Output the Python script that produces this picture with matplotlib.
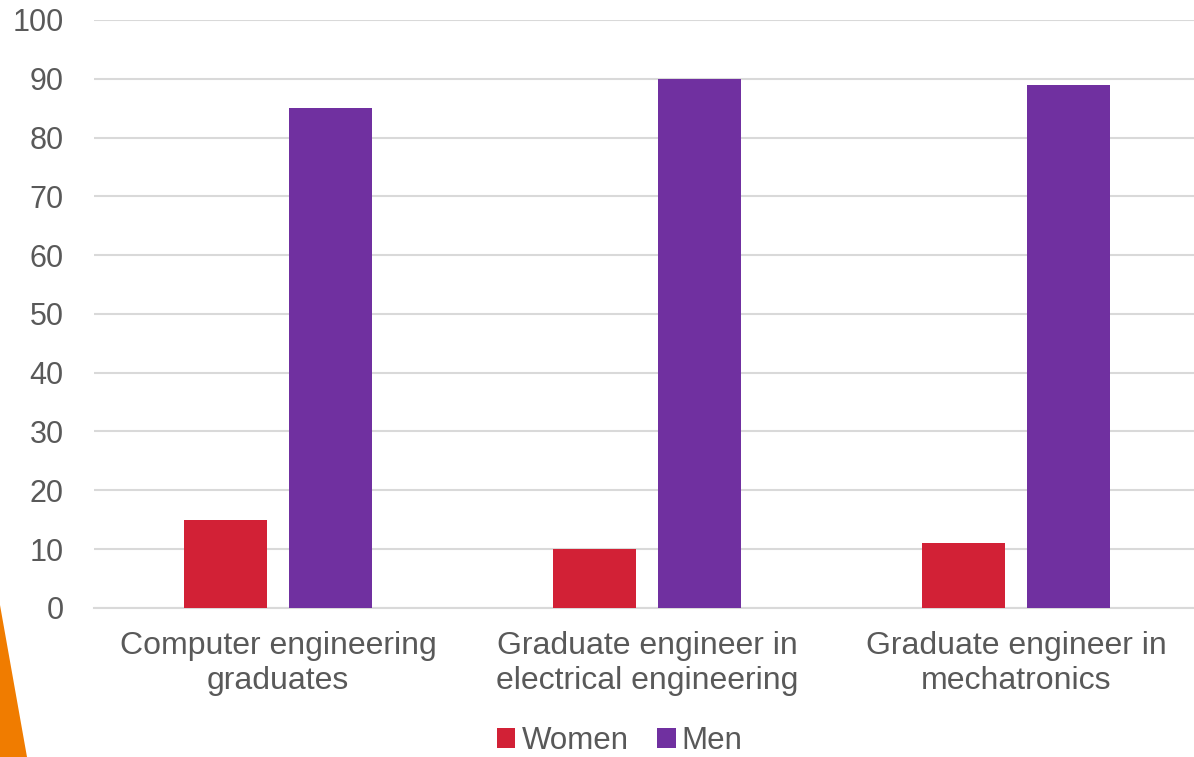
import matplotlib
matplotlib.use("Agg")
import matplotlib.pyplot as plt
import matplotlib.patches as mpatches
import numpy as np

plt.rcParams["font.family"] = ["Liberation Sans", "DejaVu Sans"]

categories = ["Computer engineering\ngraduates",
              "Graduate engineer in\nelectrical engineering",
              "Graduate engineer in\nmechatronics"]
women = [15, 10, 11]
men = [85, 90, 89]

RED = "#D22136"
PURPLE = "#7030A0"
GRID = "#D9D9D9"
TEXT = "#595959"

fig = plt.figure(figsize=(11.94, 7.57), dpi=100)
# axes runs past the right edge of the image, like the source
ax = fig.add_axes([93.5 / 1194, 0.197, 1107 / 1194, 0.7767])

x = np.arange(len(categories))
w = 0.225
ax.bar(x - 0.142, women, w, color=RED, label="Women", zorder=3)
ax.bar(x + 0.142, men, w, color=PURPLE, label="Men", zorder=3)

ax.set_xlim(-0.5, 2.5)
ax.set_ylim(0, 100)
ax.set_yticks(range(0, 101, 10))
ax.set_xticks(x)
ax.set_xticklabels(categories, linespacing=1.2)
ax.yaxis.grid(True, color=GRID, linewidth=1.5, zorder=0)
for s in ["top", "right", "left"]:
    ax.spines[s].set_visible(False)
ax.spines["bottom"].set_color(GRID)
ax.spines["bottom"].set_linewidth(1.5)
ax.tick_params(axis="both", length=0, colors=TEXT)
ax.tick_params(axis="x", labelsize=23, pad=17)
ax.tick_params(axis="y", labelsize=22, pad=21.5)

fig.legend(loc="center", bbox_to_anchor=(0.519, 0.021), ncol=2, frameon=False,
           fontsize=22.5, labelcolor=TEXT, handlelength=0.6, handleheight=0.6,
           handletextpad=0.2, columnspacing=0.9, borderpad=0.2)

# orange corner accent
fig.patches.append(mpatches.Polygon([[0, 0], [27 / 1194, 0], [0, 1 - 605 / 757]],
                                    closed=True, transform=fig.transFigure,
                                    facecolor="#F07C00", edgecolor="none"))

fig.savefig("out.png", dpi=100)
